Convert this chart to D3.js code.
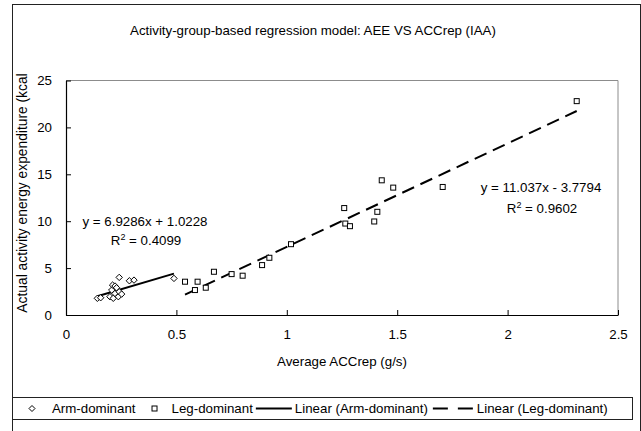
<!DOCTYPE html>
<html><head><meta charset="utf-8">
<script src="https://cdn.jsdelivr.net/npm/d3@7"></script>
<style>
html,body{margin:0;padding:0;background:#fff;}
svg{display:block;font-family:"Liberation Sans",Arial,sans-serif;}
</style></head>
<body>
<svg id="chart" width="641" height="431"></svg>
<script>
const titleText = "Activity-group-based regression model: AEE VS ACCrep (IAA)";
const xTitle = "Average ACCrep (g/s)";
const yTitle = "Actual activity energy expenditure (kcal";
const xTicks = [0, 0.5, 1, 1.5, 2, 2.5];
const yTicks = [0, 5, 10, 15, 20, 25];

const armX = [0.142, 0.157, 0.199, 0.207, 0.211, 0.214, 0.222, 0.222, 0.229, 0.237, 0.241, 0.241, 0.252, 0.287, 0.308, 0.489];
const armY = [1.78, 1.84, 1.95, 2.66, 3.19, 1.78, 3.09, 2.30, 2.90, 1.95, 2.48, 4.01, 2.23, 3.65, 3.72, 3.90];
const legX = [0.539, 0.584, 0.596, 0.633, 0.670, 0.750, 0.800, 0.888, 0.921, 1.019, 1.26, 1.265, 1.286, 1.396, 1.41, 1.43, 1.482, 1.706, 2.313];
const legY = [3.55, 2.66, 3.55, 2.91, 4.61, 4.36, 4.19, 5.32, 6.10, 7.55, 11.4, 9.75, 9.47, 9.97, 11.0, 14.36, 13.58, 13.65, 22.8];

const seriesNames = ["Arm-dominant", "Leg-dominant", "Linear (Arm-dominant)", "Linear (Leg-dominant)"];
const trendSlope = [6.9286, 11.037];
const trendIntercept = [1.0228, -3.7794];
const trendEq = ["y = 6.9286x + 1.0228", "y = 11.037x - 3.7794"];
const trendR2 = ["0.4099", "0.9602"];

const svg = d3.select("#chart");
const FS = "13.3px";
const L = 66, R = 618, T = 80.5, B = 315;
const x = d3.scaleLinear().domain([0, 2.5]).range([L, R]);
const y = d3.scaleLinear().domain([0, 25]).range([B, T]);

// outer border
svg.append("rect").attr("x", 12.5).attr("y", 4.5).attr("width", 628).attr("height", 440)
  .attr("fill", "none").attr("stroke", "#222").attr("stroke-width", 1);

// title
svg.append("text").attr("x", 313).attr("y", 35).attr("text-anchor", "middle")
  .style("font-size", FS).text(titleText);

// plot frame (top/right)
svg.append("path").attr("d", `M${L},${T}H${R}V${B}`).attr("fill", "none")
  .attr("stroke", "#8c8c8c").attr("stroke-width", 1);

// axes
const xAxis = d3.axisBottom(x).tickValues(xTicks).tickSizeInner(-5).tickSizeOuter(0).tickPadding(14)
  .tickFormat(d => d3.format("")(d));
const gx = svg.append("g").attr("transform", `translate(0,${B})`).call(xAxis);
const yAxis = d3.axisLeft(y).tickValues(yTicks).tickSizeInner(-5).tickSizeOuter(0).tickPadding(14);
const gy = svg.append("g").attr("transform", `translate(${L},0)`).call(yAxis);
[gx, gy].forEach(g => {
  g.select(".domain").attr("stroke", "#000").attr("stroke-width", 1.2);
  g.selectAll(".tick line").attr("stroke", "#000");
  g.selectAll(".tick text").style("font-size", FS).attr("fill", "#000").style("font-family", "Liberation Sans, Arial, sans-serif");
});
gx.selectAll(".tick text").attr("dy", "0.71em").attr("y", 15);

// axis titles
svg.append("text").attr("x", (L + R) / 2).attr("y", 366).attr("text-anchor", "middle")
  .style("font-size", FS).text(xTitle);
svg.append("text").attr("transform", "translate(27,193) rotate(-90)").attr("text-anchor", "middle")
  .style("font-size", "13.8px").text(yTitle);

// trendlines
const trendData = [
  {xs: armX, k: 0, dash: null},
  {xs: legX, k: 1, dash: "13,7"}
];
trendData.forEach(t => {
  const x0 = d3.min(t.xs), x1 = d3.max(t.xs);
  const f = v => trendSlope[t.k] * v + trendIntercept[t.k];
  svg.append("line").attr("x1", x(x0)).attr("y1", y(f(x0))).attr("x2", x(x1)).attr("y2", y(f(x1)))
    .attr("stroke", "#000").attr("stroke-width", 2).attr("stroke-dasharray", t.dash);
});

// markers
const diamond = (cx, cy, r) => `M${cx},${cy - r}L${cx + r},${cy}L${cx},${cy + r}L${cx - r},${cy}Z`;
armX.forEach((v, i) => {
  svg.append("path").attr("d", diamond(x(v), y(armY[i]), 3.2)).attr("fill", "#fff")
    .attr("stroke", "#000").attr("stroke-width", 1);
});
legX.forEach((v, i) => {
  svg.append("rect").attr("x", x(v) - 2.5).attr("y", y(legY[i]) - 2.5).attr("width", 5).attr("height", 5)
    .attr("fill", "#fff").attr("stroke", "#000").attr("stroke-width", 1);
});

// trend labels
function r2Label(cx, by, val) {
  const t = svg.append("text").attr("x", cx).attr("y", by).attr("text-anchor", "middle").style("font-size", FS);
  t.append("tspan").text("R");
  t.append("tspan").attr("dy", -5).style("font-size", "9px").text("2");
  t.append("tspan").attr("dy", 5).text(" = " + val);
}
svg.append("text").attr("x", 145).attr("y", 226).attr("text-anchor", "middle").style("font-size", FS).text(trendEq[0]);
r2Label(146, 245, trendR2[0]);
svg.append("text").attr("x", 541).attr("y", 192).attr("text-anchor", "middle").style("font-size", FS).text(trendEq[1]);
r2Label(542, 213, trendR2[1]);

// legend
const lg = svg.append("g");
lg.append("rect").attr("x", 12.5).attr("y", 397.5).attr("width", 620).attr("height", 22)
  .attr("fill", "#fff").attr("stroke", "#222").attr("stroke-width", 1);
const ly = 408.5;
function ltext(xp, s) {
  const t = lg.append("text").attr("x", xp).attr("y", ly + 4.7).style("font-size", FS).text(s);
  return xp + t.node().getComputedTextLength();
}
let cx = 32;
lg.append("path").attr("d", diamond(cx, ly, 3)).attr("fill", "#fff").attr("stroke", "#000");
cx = ltext(cx + 20, seriesNames[0]);
cx += 19;
lg.append("rect").attr("x", cx - 2.5).attr("y", ly - 2.5).attr("width", 5).attr("height", 5).attr("fill", "#fff").attr("stroke", "#000");
cx = ltext(cx + 17, seriesNames[1]);
lg.append("line").attr("x1", cx + 3).attr("x2", cx + 39).attr("y1", ly).attr("y2", ly).attr("stroke", "#000").attr("stroke-width", 2);
cx = ltext(cx + 42, seriesNames[2]);
lg.append("line").attr("x1", cx + 5).attr("x2", cx + 45).attr("y1", ly).attr("y2", ly).attr("stroke", "#000").attr("stroke-width", 2).attr("stroke-dasharray", "15,10");
cx = ltext(cx + 49, seriesNames[3]);
</script>
</body></html>
